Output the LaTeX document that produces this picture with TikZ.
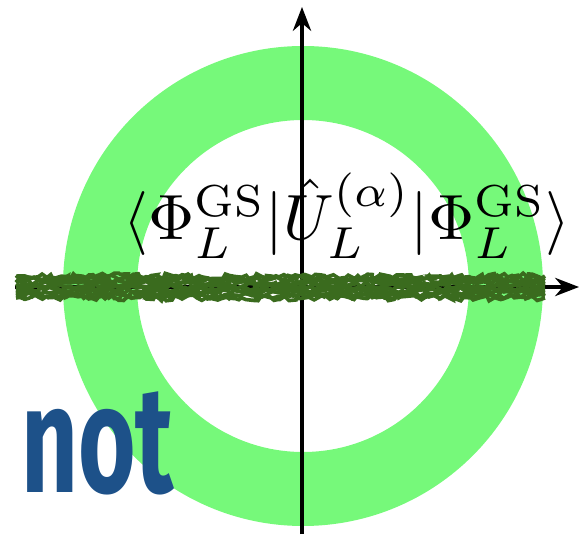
\documentclass[tikz,border=0pt]{standalone}
\usepackage{amsmath}
\usepackage{fontspec}
\newfontfamily\notfont{Fira Sans}
\usetikzlibrary{arrows.meta,decorations.pathmorphing}
\definecolor{ringgreen}{RGB}{118,249,122}
\definecolor{scribgreen}{RGB}{58,107,30}
\definecolor{notblue}{RGB}{29,81,137}

\begin{document}
\begin{tikzpicture}[x=0.025cm, y=0.025cm,
  axis/.style={line width=2.3pt, -{Stealth[length=17pt,width=13pt]}},
  scrib/.style={scribgreen, line width=2.6pt, decorate,
    decoration={random steps, segment length=3pt, amplitude=2pt}}]
\useasboundingbox (0,0) rectangle (580,534);
\pgfmathsetseed{7}

% Ring
\fill[ringgreen, even odd rule] (303,248) circle (240) circle (166);

% Overlap
\node[scale=4.55, anchor=base, inner sep=0] (overlap) at (347,294)
  {$\langle\Phi_L^{\mathrm{GS}}|\hat{U}_L^{(\alpha)}|\Phi_L^{\mathrm{GS}}\rangle$};

% Axes
\coordinate (ybot) at (302,0);
\coordinate (ytop) at (302,527);
\coordinate (xleft) at (15,247);
\coordinate (xright) at (579,247);
\draw[axis] (ybot) -- (ytop);
\draw[axis] (xleft) -- (xright);

% Scribbled-out real axis
\coordinate (sleft) at (16,247);
\coordinate (sright) at (545,247);
\foreach \dy in {-11,-9,...,11}
  \draw[scrib] ([yshift=\dy*0.025cm]sleft) -- ([yshift=\dy*0.025cm]sright);

% not
\node[notblue, font=\notfont\bfseries\fontsize{108}{108}\selectfont,
  xscale=0.65, anchor=base west, inner sep=0] (nottext) at (21,42) {not};
\end{tikzpicture}
\end{document}
